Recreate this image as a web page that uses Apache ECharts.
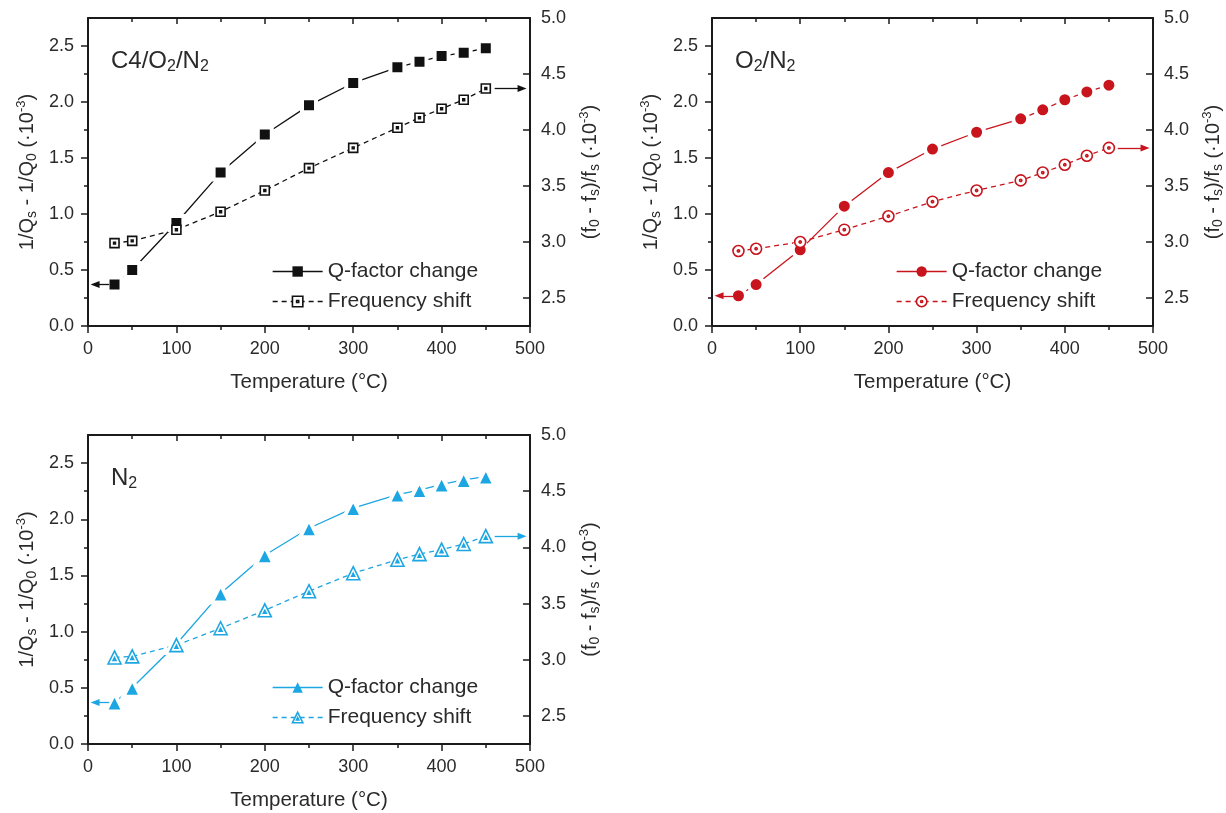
<!DOCTYPE html>
<html>
<head>
<meta charset="utf-8">
<script src="https://cdn.jsdelivr.net/npm/echarts@6/dist/echarts.min.js"></script>
<style>
  html, body { margin: 0; padding: 0; background: #ffffff; }
  #chart { width: 1226px; height: 813px; }
</style>
</head>
<body>
<div id="chart"></div>
<script>
// Measurement temperatures (°C)
const temps = [30, 50, 100, 150, 200, 250, 300, 350, 375, 400, 425, 450];

// Q-factor change 1/Qs - 1/Q0 (·10^-3), left axis
const qC4 = [0.37, 0.50, 0.92, 1.37, 1.71, 1.97, 2.17, 2.31, 2.36, 2.41, 2.44, 2.48];
const qO2 = [0.27, 0.37, 0.68, 1.07, 1.37, 1.58, 1.73, 1.85, 1.93, 2.02, 2.09, 2.15];
const qN2 = [0.37, 0.50, 0.89, 1.34, 1.68, 1.92, 2.10, 2.22, 2.26, 2.31, 2.35, 2.38];

// Relative frequency shift (f0 - fs)/fs (·10^-3), right axis
const fC4 = [2.99, 3.01, 3.11, 3.27, 3.46, 3.66, 3.84, 4.02, 4.11, 4.19, 4.27, 4.37];
const fO2 = [2.92, 2.94, 3.00, 3.11, 3.23, 3.36, 3.46, 3.55, 3.62, 3.69, 3.77, 3.84];
const fN2 = [3.02, 3.03, 3.13, 3.28, 3.44, 3.61, 3.77, 3.89, 3.94, 3.98, 4.03, 4.10];

// Axis ticks
const leftMajor = [0, 0.5, 1.0, 1.5, 2.0, 2.5];
const leftMinor = [0.25, 0.75, 1.25, 1.75, 2.25];
const rightMajor = [2.5, 3.0, 3.5, 4.0, 4.5, 5.0];
const rightMinor = [2.75, 3.25, 3.75, 4.25, 4.75];

const legendNames = ['Q-factor change', 'Frequency shift'];

const FONT = '"Liberation Sans", Arial, Helvetica, sans-serif';
const INK = '#1b1b1b';
const TXT = '#2a2a2a';

// open markers with a centre dot
const SQ_OPEN = 'path://M0,0L10,0L10,10L0,10Z M4,4L6,4L6,6L4,6Z';
const CI_OPEN = 'path://M10,5A5,5,0,1,1,0,5A5,5,0,1,1,10,5Z M6,5A1,1,0,1,1,4,5A1,1,0,1,1,6,5Z';
const TR_OPEN = 'path://M5,0L10,9L0,9Z M5,4.6L6.1,6.6L3.9,6.6Z';

const panels = [
  {
    title: '{m|C4/O}{s|2}{m|/N}{s|2}',
    q: qC4, f: fC4, color: '#111111',
    qSymbol: 'rect', qSize: 14, fSymbol: SQ_OPEN, fSize: 9,
    box: { left: 88, top: 18, width: 442, height: 308 },
    legendAt: { left: 272, top: 261 },
    titleAt: { left: 111, top: 47 }
  },
  {
    title: '{m|O}{s|2}{m|/N}{s|2}',
    q: qO2, f: fO2, color: '#c8141c',
    qSymbol: 'circle', qSize: 15, fSymbol: CI_OPEN, fSize: 11,
    box: { left: 712, top: 18, width: 441, height: 308 },
    legendAt: { left: 896, top: 261 },
    titleAt: { left: 735, top: 47 }
  },
  {
    title: '{m|N}{s|2}',
    q: qN2, f: fN2, color: '#1ca6e2',
    qSymbol: 'triangle', qSize: 18, fSymbol: TR_OPEN, fSize: 13,
    box: { left: 88, top: 435, width: 442, height: 309 },
    legendAt: { left: 272, top: 677 },
    titleAt: { left: 111, top: 464 }
  }
];

const richName = {
  m: { fontSize: 20, fontFamily: FONT, color: TXT, lineHeight: 24 },
  s: { fontSize: 14, fontFamily: FONT, color: TXT, verticalAlign: 'bottom', lineHeight: 10 },
  p: { fontSize: 13, fontFamily: FONT, color: TXT, verticalAlign: 'top', lineHeight: 10 }
};
const richTitle = {
  m: { fontSize: 24, fontWeight: 'normal', fontFamily: FONT, color: TXT, lineHeight: 28 },
  s: { fontSize: 16, fontWeight: 'normal', fontFamily: FONT, color: TXT, verticalAlign: 'bottom', lineHeight: 11 }
};

const tickLine = { color: INK, width: 1.5 };
const axisLine = { show: true, onZero: false, lineStyle: { color: INK, width: 2 } };
const labelStyle = { fontSize: 18, fontFamily: FONT, color: TXT };

const option = {
  animation: false,
  backgroundColor: '#ffffff',
  title: [],
  legend: [],
  grid: [],
  xAxis: [],
  yAxis: [],
  series: []
};

panels.forEach((p, i) => {
  option.grid.push(Object.assign({ containLabel: false, outerBoundsMode: 'none' }, p.box));

  option.title.push({
    text: p.title,
    left: p.titleAt.left, top: p.titleAt.top, padding: 0,
    textStyle: { fontWeight: 'normal', rich: richTitle }
  });

  // bottom and top temperature axes
  option.xAxis.push({
    gridIndex: i, type: 'value', position: 'bottom', min: 0, max: 500, interval: 100,
    axisLine: axisLine,
    axisTick: { show: true, inside: false, length: 7, lineStyle: tickLine },
    minorTick: { show: true, splitNumber: 2, length: 4, lineStyle: tickLine },
    axisLabel: Object.assign({ margin: 14 }, labelStyle),
    splitLine: { show: false }, minorSplitLine: { show: false },
    name: 'Temperature (°C)', nameLocation: 'middle', nameGap: 46,
    nameTextStyle: { fontSize: 20.5, fontFamily: FONT, color: TXT }
  });
  option.xAxis.push({
    gridIndex: i, type: 'value', position: 'top', min: 0, max: 500, interval: 100,
    axisLine: axisLine,
    axisTick: { show: true, inside: true, length: 6, lineStyle: tickLine },
    minorTick: { show: true, splitNumber: 2, length: 4, lineStyle: tickLine },
    axisLabel: { show: false },
    splitLine: { show: false }, minorSplitLine: { show: false }
  });

  // left axis (Q-factor), right axis (frequency shift), each with a minor-tick companion
  option.yAxis.push({
    gridIndex: i, type: 'value', position: 'left', min: 0, max: 2.75,
    axisLine: axisLine,
    axisTick: { show: true, inside: false, length: 7, customValues: leftMajor, lineStyle: tickLine },
    axisLabel: Object.assign({ margin: 14, customValues: leftMajor, formatter: v => Number(v).toFixed(1) }, labelStyle),
    splitLine: { show: false },
    name: '{m|1/Q}{s|s}{m| - 1/Q}{s|0}{m| (·10}{p|-3}{m|)}',
    nameLocation: 'middle', nameRotate: 90, nameGap: 49,
    nameTextStyle: { rich: richName }
  });
  option.yAxis.push({
    gridIndex: i, type: 'value', position: 'left', min: 0, max: 2.75,
    axisLine: { show: false },
    axisTick: { show: true, inside: false, length: 4, customValues: leftMinor, lineStyle: tickLine },
    axisLabel: { show: false }, splitLine: { show: false }
  });
  option.yAxis.push({
    gridIndex: i, type: 'value', position: 'right', min: 2.25, max: 5.0,
    axisLine: axisLine,
    axisTick: { show: true, inside: true, length: 7, customValues: rightMajor, lineStyle: tickLine },
    axisLabel: Object.assign({ margin: 11, customValues: rightMajor, formatter: v => Number(v).toFixed(1) }, labelStyle),
    splitLine: { show: false },
    name: '{m|(f}{s|0}{m| - f}{s|s}{m|)/f}{s|s}{m| (·10}{p|-3}{m|)}',
    nameLocation: 'middle', nameRotate: 90, nameGap: 48,
    nameTextStyle: { rich: richName }
  });
  option.yAxis.push({
    gridIndex: i, type: 'value', position: 'right', min: 2.25, max: 5.0,
    axisLine: { show: false },
    axisTick: { show: true, inside: true, length: 4, customValues: rightMinor, lineStyle: tickLine },
    axisLabel: { show: false }, splitLine: { show: false }
  });

  const qName = legendNames[0] + '@' + i;
  const fName = legendNames[1] + '@' + i;
  const qItem = { color: p.color, borderColor: '#ffffff', borderWidth: 4 };
  const fItem = { color: '#ffffff', borderColor: p.color, borderWidth: 1.6 };
  const qLegendItem = { color: p.color, borderColor: p.color, borderWidth: 0 };
  const qLine = { color: p.color, width: 1.3, type: 'solid' };
  const fLine = { color: p.color, width: 1.3, type: [5, 4] };
  const arrowStyle = { color: p.color, width: 1.3, type: 'solid' };

  option.legend.push({
    orient: 'vertical', left: p.legendAt.left, top: p.legendAt.top, padding: 0,
    itemWidth: 50, itemHeight: 13, itemGap: 9,
    selectedMode: false,
    formatter: n => n.split('@')[0],
    textStyle: { fontSize: 21, fontFamily: FONT, color: TXT, lineHeight: 21 },
    data: [
      { name: qName, itemStyle: qLegendItem, lineStyle: qLine },
      { name: fName, itemStyle: fItem, lineStyle: fLine }
    ]
  });

  const last = temps.length - 1;
  option.series.push({
    type: 'line', name: qName, xAxisIndex: 2 * i, yAxisIndex: 4 * i,
    data: temps.map((t, k) => [t, p.q[k]]),
    symbol: p.qSymbol, symbolSize: p.qSize, showSymbol: true, showAllSymbol: true,
    lineStyle: qLine, itemStyle: qItem, z: 3,
    emphasis: { disabled: true },
    markLine: {
      silent: true, animation: false,
      symbol: ['none', 'triangle'], symbolSize: [7, 9],
      lineStyle: arrowStyle, label: { show: false }, emphasis: { disabled: true },
      data: [[{ coord: [temps[0] - 6, p.q[0]] }, { coord: [8, p.q[0]] }]]
    }
  });
  option.series.push({
    type: 'line', name: fName, xAxisIndex: 2 * i, yAxisIndex: 4 * i + 2,
    data: temps.map((t, k) => [t, p.f[k]]),
    symbol: p.fSymbol, symbolSize: p.fSize, showSymbol: true, showAllSymbol: true,
    lineStyle: fLine, itemStyle: fItem, z: 3,
    emphasis: { disabled: true },
    markLine: {
      silent: true, animation: false,
      symbol: ['none', 'triangle'], symbolSize: [7, 9],
      lineStyle: arrowStyle, label: { show: false }, emphasis: { disabled: true },
      data: [[{ coord: [temps[last] + 10, p.f[last]] }, { coord: [491, p.f[last]] }]]
    }
  });
});

const chart = echarts.init(document.getElementById('chart'), null, { renderer: 'canvas' });
chart.setOption(option);
</script>
</body>
</html>
